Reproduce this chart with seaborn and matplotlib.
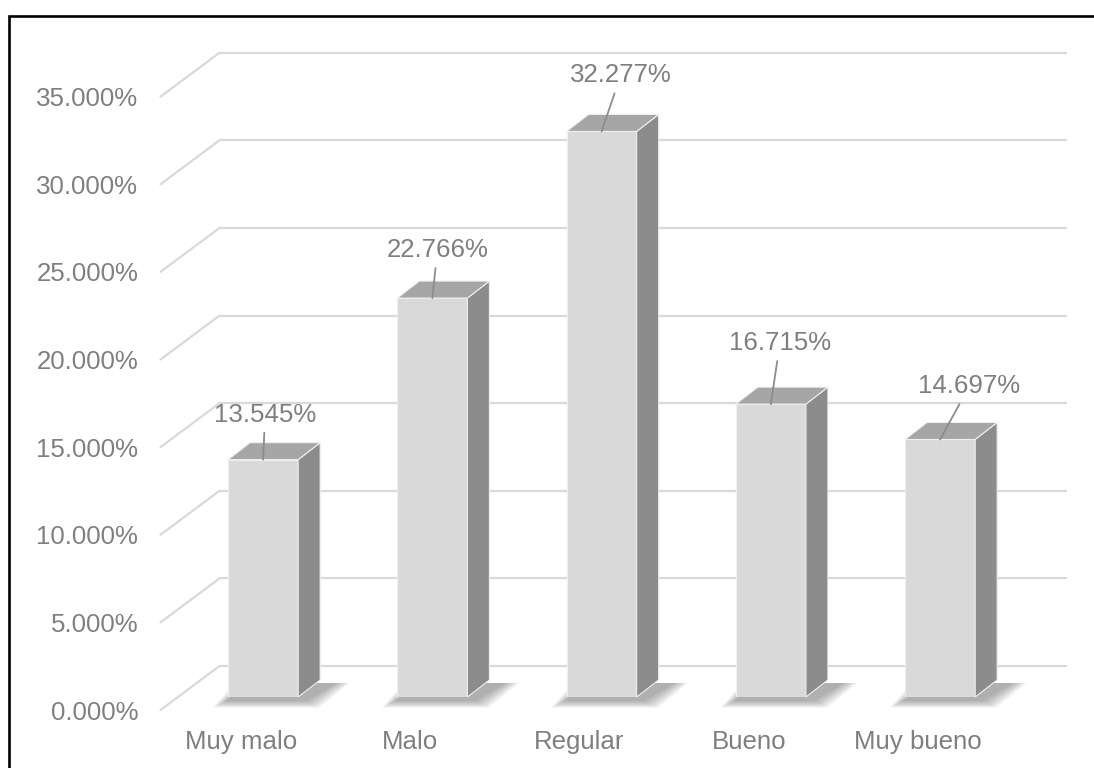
import matplotlib
matplotlib.use("Agg")
import matplotlib.pyplot as plt
import seaborn as sns
import pandas as pd
from matplotlib.patches import Polygon, Rectangle
from matplotlib.transforms import ScaledTranslation

# ---- data ----
categories = ["Muy malo", "Malo", "Regular", "Bueno", "Muy bueno"]
percentages = [13.545, 22.766, 32.277, 16.715, 14.697]
y_ticks = [0, 5, 10, 15, 20, 25, 30, 35]
y_tick_labels = [f"{v:.3f}%" for v in y_ticks]
value_labels = [f"{v:.3f}%" for v in percentages]

# data label placement (pixels from the top front edge of each bar)
label_dx = [2, 5, 19, 9, 29]
label_up = [47, 50, 58, 63, 55]

# ---- style ----
TEXT_COLOR = "#7f7f7f"
GRID_COLOR = "#d9d9d9"
FRONT_COLOR = "#d9d9d9"
SIDE_COLOR = "#8c8c8c"
TOP_COLOR = "#a6a6a6"
EDGE_COLOR = "#efefef"
FONT_SIZE = 18.6

sns.set_theme(style="white")
plt.rcParams["font.family"] = ["Liberation Sans", "DejaVu Sans"]

W, H = 1094, 768
fig = plt.figure(figsize=(W / 100, H / 100), dpi=100)
ax = fig.add_axes([178.5 / W, (H - 697) / H, 846.25 / W, 613.3 / H])
ax.patch.set_alpha(0)

df = pd.DataFrame({"Categoria": categories, "Porcentaje": percentages})
sns.barplot(data=df, x="Categoria", y="Porcentaje", color=FRONT_COLOR,
            saturation=1, width=0.414, errorbar=None, edgecolor=EDGE_COLOR,
            linewidth=0.8, zorder=3, ax=ax)
ax.set_xlim(-0.5, 4.5)
ax.set_ylim(0, 35)

# pixels per data unit, used for the fake 3D depth
o = ax.transData.transform((0, 0))
sx = ax.transData.transform((1, 0))[0] - o[0]
sy = ax.transData.transform((0, 1))[1] - o[1]

# back wall gridlines + diagonal floor/side lines
for t in y_ticks:
    ax.plot([-0.5 + 41 / sx, 4.5 + 41 / sx], [t + 31 / sy, t + 31 / sy],
            color=GRID_COLOR, lw=1.6, zorder=0.5, clip_on=False)
    ax.plot([-0.5 - 18 / sx, -0.5 + 41 / sx], [t - 13 / sy, t + 31 / sy],
            color=GRID_COLOR, lw=1.6, zorder=0.5, clip_on=False)

bars = list(ax.patches)
ddx, ddy = 22 / sx, 17 / sy
for p in bars:
    x0 = p.get_x()
    x1 = x0 + p.get_width()
    h = p.get_height()

    # soft shadow on the floor
    for k in range(7):
        e = 2 + k * 2.2
        shadow = [(x0 - e / sx, -(3 + e * 0.5) / sy),
                  (x1 + (6 + e) / sx, -(3 + e * 0.5) / sy),
                  (x1 + ddx + (14 + e) / sx, ddy - 3 / sy),
                  (x0 + ddx - e / sx, ddy - 3 / sy)]
        ax.add_patch(Polygon(shadow, closed=True, fc="#404040", ec="none",
                             alpha=0.07, zorder=1, clip_on=False))

    side = [(x1, 0), (x1 + ddx, ddy), (x1 + ddx, h + ddy), (x1, h)]
    top = [(x0, h), (x1, h), (x1 + ddx, h + ddy), (x0 + ddx, h + ddy)]
    ax.add_patch(Polygon(side, closed=True, fc=SIDE_COLOR, ec=EDGE_COLOR,
                         lw=0.8, zorder=3, clip_on=False))
    ax.add_patch(Polygon(top, closed=True, fc=TOP_COLOR, ec=EDGE_COLOR,
                         lw=0.8, zorder=3, clip_on=False))

# data labels with leader lines
for i, p in enumerate(bars):
    cx = p.get_x() + p.get_width() / 2
    h = p.get_height()
    ax.annotate(value_labels[i], xy=(cx, h),
                xytext=(label_dx[i] * 0.72, (label_up[i] - 9) * 0.72),
                textcoords="offset points", ha="center", va="baseline",
                fontsize=FONT_SIZE, color=TEXT_COLOR, zorder=6,
                annotation_clip=False,
                arrowprops=dict(arrowstyle="-", color="#8c8c8c", lw=1.3,
                                shrinkA=2, shrinkB=0))

# axes / ticks
ax.set_yticks(y_ticks, labels=y_tick_labels)
ax.set_xlabel("")
ax.set_ylabel("")
ax.tick_params(axis="y", length=0, pad=29, labelsize=FONT_SIZE, labelcolor=TEXT_COLOR)
ax.tick_params(axis="x", length=0, pad=24, labelsize=FONT_SIZE, labelcolor=TEXT_COLOR)
for lbl in ax.get_yticklabels():
    lbl.set_transform(lbl.get_transform() + ScaledTranslation(0, -0.13, fig.dpi_scale_trans))
for lbl in ax.get_xticklabels():
    lbl.set_transform(lbl.get_transform() + ScaledTranslation(-0.22, 0, fig.dpi_scale_trans))
for s in ax.spines.values():
    s.set_visible(False)

# outer chart frame (left and top edges visible)
fig.patches.append(Rectangle((8.5 / W, -0.1), 1.2, (H - 16) / H + 0.1,
                             transform=fig.transFigure, fill=False,
                             edgecolor="black", lw=1.9))

fig.savefig("out.png", dpi=100)
